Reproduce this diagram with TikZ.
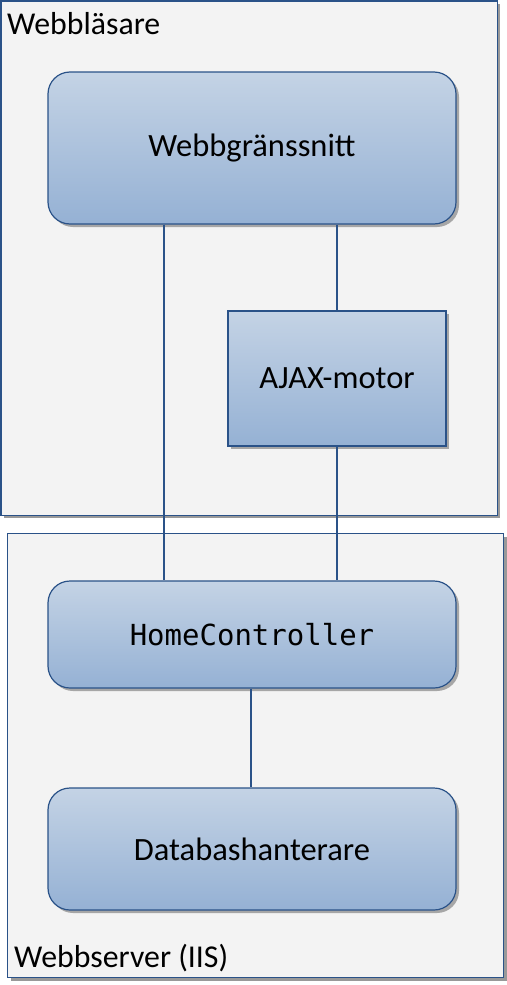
\documentclass[tikz,border=0pt]{standalone}
\usepackage{fontspec}
\setmainfont{Carlito}
\newfontfamily\codefont{DejaVu Sans Mono}
\usetikzlibrary{shadows}
\definecolor{edge}{HTML}{2A5288}
\definecolor{gtop}{HTML}{C4D3E5}
\definecolor{gbot}{HTML}{95B1D4}
\definecolor{panel}{HTML}{F3F3F3}
\begin{document}
\begin{tikzpicture}[x=1pt,y=-1pt,
  panelbox/.style={draw=edge, line width=1.2pt, fill=panel,
    drop shadow={shadow xshift=3pt, shadow yshift=-3pt, fill=black!40, opacity=1}},
  blockbox/.style={draw=edge, line width=1.2pt, top color=gtop, bottom color=gbot,
    drop shadow={shadow xshift=3pt, shadow yshift=-3pt, fill=black!35, opacity=1},
    font=\fontsize{32.5}{36}\selectfont},
  roundbox/.style={blockbox, rounded corners=22pt},
  conn/.style={draw=edge, line width=1.2pt}]
\useasboundingbox (0,0) rectangle (506,985);
% panels
\node[panelbox, anchor=north west, minimum width=496pt, minimum height=514pt, inner sep=0pt] (browser) at (0.5,0.5) {};
\node[panelbox, anchor=north west, minimum width=496pt, minimum height=444pt, inner sep=0pt] (server) at (7,533) {};
\node[anchor=base west, font=\fontsize{31.8}{36}\selectfont, inner sep=0pt] (blabel) at (7,34) {Webbläsare};
\node[anchor=base west, font=\fontsize{31.8}{36}\selectfont, inner sep=0pt] (slabel) at (14,967) {Webbserver (IIS)};
% blocks
\node[roundbox, minimum width=408pt, minimum height=152pt, inner sep=0pt] (ui) at (252,148) {Webbgränssnitt};
\node[blockbox, minimum width=218pt, minimum height=135pt, inner sep=0pt] (ajax) at (337,378.5) {AJAX-motor};
\node[roundbox, minimum width=408pt, minimum height=107pt, inner sep=0pt, font=\fontsize{29}{34}\codefont] (hc) at (252,634.5) {HomeController};
\node[roundbox, minimum width=408pt, minimum height=122pt, inner sep=0pt] (db) at (252,849) {Databashanterare};
% connectors
\draw[conn] (ui.south -| 164,0) -- (hc.north -| 164,0);
\draw[conn] (ui.south -| ajax.north) -- (ajax.north);
\draw[conn] (ajax.south) -- (hc.north -| ajax.south);
\draw[conn] (hc.south -| 251,0) -- (db.north -| 251,0);
\end{tikzpicture}
\end{document}
